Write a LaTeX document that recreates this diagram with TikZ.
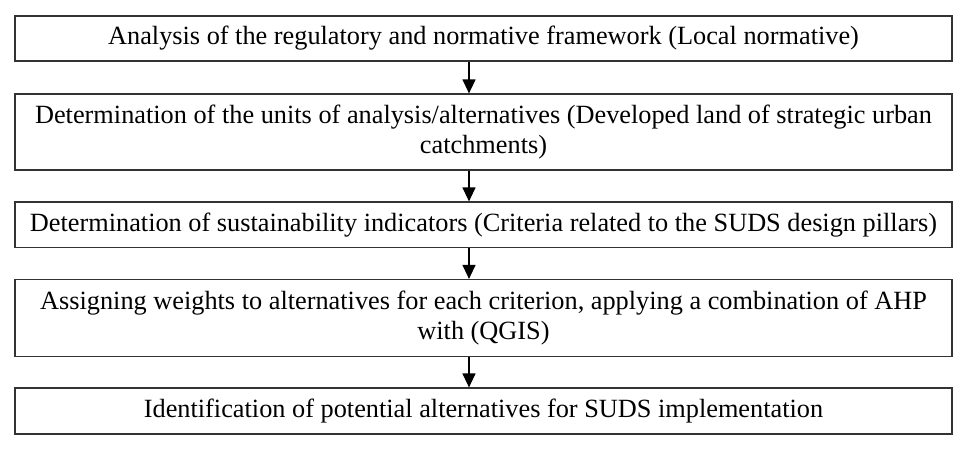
\documentclass[tikz,border=0pt]{standalone}
\usepackage{fontspec}
\setmainfont{Liberation Serif}
\usetikzlibrary{arrows.meta}
\begin{document}
\begin{tikzpicture}[x=1pt,y=-1pt,
  stepbox/.style={draw=black!80,line width=1.2pt,minimum width=937pt,inner sep=0pt,align=center,
    font=\fontsize{26.3}{30}\selectfont},
  arr/.style={line width=1.2pt,draw=black,-{Triangle[width=13pt,length=14pt]}}]
\useasboundingbox (0,0) rectangle (970,451);
\node[stepbox,minimum height=45pt] (b1) at (483.5,38.5) {Analysis of the regulatory and normative framework (Local normative)};
\node[stepbox,minimum height=76pt] (b2) at (483.5,132) {Determination of the units of analysis/alternatives (Developed land of strategic urban\\catchments)};
\node[stepbox,minimum height=45.5pt] (b3) at (483.5,224.75) {Determination of sustainability indicators (Criteria related to the SUDS design pillars)};
\node[stepbox,minimum height=77pt] (b4) at (483.5,318) {Assigning weights to alternatives for each criterion, applying a combination of AHP\\with (QGIS)};
\node[stepbox,minimum height=46pt] (b5) at (483.5,411) {Identification of potential alternatives for SUDS implementation};
\coordinate (ax) at (469,0);
\draw[arr] (b1.south -| ax) -- (b2.north -| ax);
\draw[arr] (b2.south -| ax) -- (b3.north -| ax);
\draw[arr] (b3.south -| ax) -- (b4.north -| ax);
\draw[arr] (b4.south -| ax) -- (b5.north -| ax);
\end{tikzpicture}
\end{document}
